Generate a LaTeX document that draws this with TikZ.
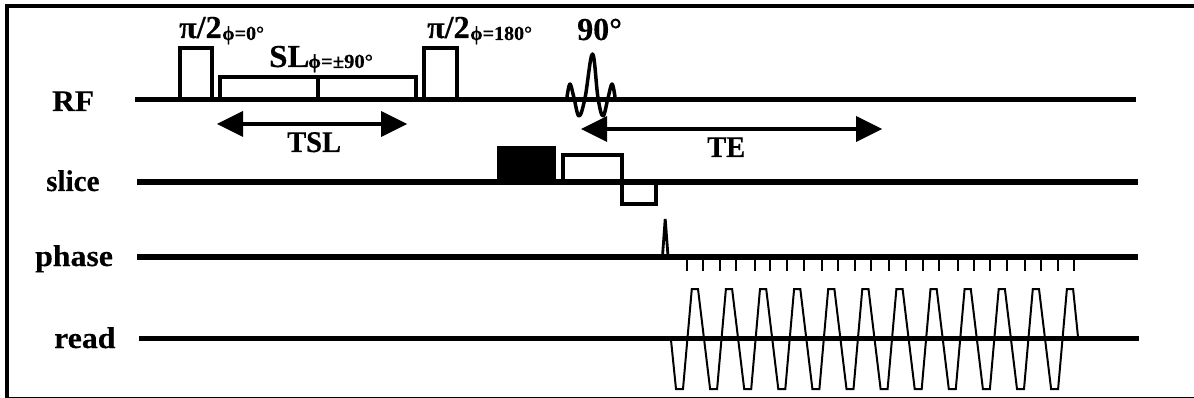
\documentclass[tikz,border=0pt]{standalone}
\usepackage{graphicx}
\usepackage{fontspec}
\setmainfont{Liberation Serif}[BoldFont={Liberation Serif Bold},BoldFeatures={FakeBold=0.3}]
\newcommand{\stretched}[2]{\scalebox{#1}[1]{#2}}
\begin{document}
\begin{tikzpicture}[x=1pt,y=-1pt,
  lab/.style={font=\bfseries\fontsize{30}{30}\selectfont,inner sep=0pt,anchor=base west},
  big/.style={font=\bfseries\fontsize{32}{32}\selectfont,inner sep=0pt,anchor=base west},
  sub/.style={font=\bfseries\fontsize{20}{20}\selectfont,inner sep=0pt,anchor=base west},
  baseline rail/.style={line width=5.5pt},
  pulse/.style={line width=3.5pt,miter limit=10},
  thin pulse/.style={line width=2pt},
  tick/.style={line width=2pt},
  span/.style={line width=3.5pt},
  head/.style={fill=black,draw=none}]
\useasboundingbox (0,0) rectangle (1194,398);
\draw[line width=4pt] (7,398) -- (7,6.5) -- (1194,6.5);
\draw[line width=1.5pt] (7,397.3) -- (1194,397.3);
% rails
\coordinate (rfL) at (135,99.5);\coordinate (rfR) at (1136,99.5);
\coordinate (slL) at (137,182);\coordinate (slR) at (1138,182);
\coordinate (phL) at (137,257);\coordinate (phR) at (1137.5,257);
\coordinate (rdL) at (139,338.5);\coordinate (rdR) at (1139,338.5);
\draw[baseline rail] (rfL)--(rfR);
\draw[baseline rail] (slL)--(slR);
\draw[baseline rail] (phL)--(phR);
\draw[baseline rail] (rdL)--(rdR);
% RF pulses
\draw[pulse] (180,99) |- (212,48) -- (212,99);
\draw[pulse] (424,99) |- (457,48) -- (457,99);
\draw[pulse] (220,99) |- (416,77) -- (416,99);
\draw[pulse] (318,77) -- (318,99);
\draw[line width=3.5pt,line join=round] plot[smooth,tension=0.62] coordinates
 {(567,97) (570,84) (574,98) (579,116) (585,98) (592.5,54) (598,98) (603,116) (608,98) (612,84) (615,97)};
% slice
\fill (497,146) rectangle (556,182);
\draw[pulse] (563,182) |- (622,155) -- (622,182);
\draw[pulse] (622,182) |- (656,204) -- (656,182);
% blip
\draw[line width=2.8pt,line join=miter] (662.5,256) -- (665.2,219) -- (668,256);
% ticks
\foreach \x in {687,703,720,736,755,770,787,803.5,822,838,855,871,889,906,922.5,939,958,973.5,990,1007,1025,1041,1058,1074}
  \draw[tick] (\x,259) -- (\x,270.5);
% read
\draw[thin pulse] (671,340)
  \foreach \i in {0,...,11} {
    -- ({676+34.1*\i},389) -- ({683+34.1*\i},389) -- ({691.8+34.1*\i},289) -- ({698+34.1*\i},289)
  } -- (1078,337);
% arrows
\coordinate (tslL) at (217,124);\coordinate (tslR) at (407,124);
\coordinate (teL) at (581,129);\coordinate (teR) at (882,129);
\draw[span] ([xshift=20pt]tslL) -- ([xshift=-20pt]tslR);
\draw[span] ([xshift=20pt]teL) -- ([xshift=-20pt]teR);
\fill[head] (tslL) -- ++(26,-13) -- ++(0,26) -- cycle;
\fill[head] (tslR) -- ++(-26,-13) -- ++(0,26) -- cycle;
\fill[head] (teL) -- ++(26,-13) -- ++(0,26) -- cycle;
\fill[head] (teR) -- ++(-26,-13) -- ++(0,26) -- cycle;
% labels
\node[lab] (rf) at (52,111) {\stretched{1.05}{RF}};
\node[lab] (slice) at (46,191) {\stretched{0.97}{slice}};
\node[lab] (phase) at (35,266) {\stretched{1.06}{phase}};
\node[lab] (read) at (54,348) {\stretched{1.06}{read}};
\node[lab] (tsl) at (287,152) {\stretched{0.95}{TSL}};
\node[lab] (te) at (707,157) {\stretched{0.95}{TE}};
\node[big] (p1) at (179,38) {\stretched{1.0}{π/2}};
\node[sub] (p1s) at (222,40) {\stretched{1.0}{ϕ=0°}};
\node[big] (p2) at (427,38) {\stretched{1.0}{π/2}};
\node[sub] (p2s) at (470,40) {\stretched{1.0}{ϕ=180°}};
\node[big] (sl) at (269,67) {\stretched{1.03}{SL}};
\node[sub] (sls) at (308,68) {\stretched{1.03}{ϕ=±90°}};
\node[big] (n90) at (577,40) {\stretched{1.0}{90°}};
\end{tikzpicture}
\end{document}
